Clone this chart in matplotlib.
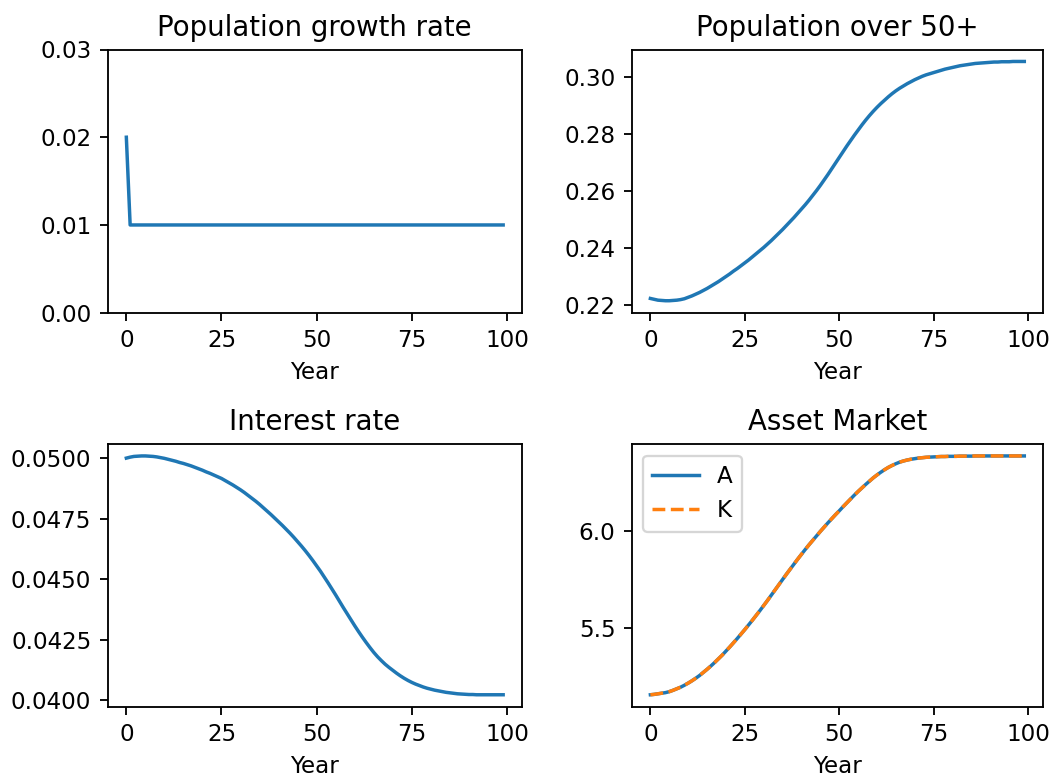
import matplotlib
matplotlib.use("Agg")
import matplotlib.pyplot as plt

years = list(range(100))

pop_growth = [0.02] + [0.01] * 99

pop_over_50 = [
    0.2222, 0.2219, 0.2216, 0.2215, 0.2214, 0.2214, 0.2215, 0.2216, 0.2218, 0.2221,
    0.2226, 0.2231, 0.2237, 0.2243, 0.2250, 0.2257, 0.2265, 0.2273, 0.2281, 0.2290,
    0.2299, 0.2308, 0.2318, 0.2327, 0.2337, 0.2347, 0.2357, 0.2368, 0.2379, 0.2390,
    0.2401, 0.2413, 0.2425, 0.2438, 0.2451, 0.2464, 0.2478, 0.2492, 0.2506, 0.2521,
    0.2536, 0.2551, 0.2567, 0.2584, 0.2601, 0.2619, 0.2638, 0.2657, 0.2677, 0.2697,
    0.2717, 0.2737, 0.2757, 0.2776, 0.2795, 0.2813, 0.2831, 0.2848, 0.2864, 0.2879,
    0.2893, 0.2906, 0.2918, 0.2930, 0.2941, 0.2951, 0.2960, 0.2968, 0.2976, 0.2983,
    0.2990, 0.2996, 0.3002, 0.3007, 0.3011, 0.3015, 0.3019, 0.3023, 0.3027, 0.3030,
    0.3033, 0.3036, 0.3039, 0.3041, 0.3043, 0.3045, 0.3047, 0.3048, 0.3049, 0.3050,
    0.3051, 0.3052, 0.3052, 0.3053, 0.3053, 0.3053, 0.3054, 0.3054, 0.3054, 0.3054,
]

interest_rate = [
    0.05000, 0.05004, 0.05007, 0.05008, 0.05009, 0.05009, 0.05008, 0.05007, 0.05005, 0.05002,
    0.04999, 0.04995, 0.04991, 0.04987, 0.04982, 0.04978, 0.04973, 0.04968, 0.04962, 0.04956,
    0.04950, 0.04943, 0.04937, 0.04930, 0.04923, 0.04916, 0.04907, 0.04898, 0.04889, 0.04879,
    0.04869, 0.04858, 0.04846, 0.04834, 0.04822, 0.04809, 0.04795, 0.04781, 0.04767, 0.04752,
    0.04737, 0.04722, 0.04706, 0.04690, 0.04673, 0.04655, 0.04637, 0.04618, 0.04598, 0.04577,
    0.04555, 0.04533, 0.04509, 0.04485, 0.04460, 0.04435, 0.04409, 0.04383, 0.04358, 0.04333,
    0.04308, 0.04284, 0.04261, 0.04239, 0.04218, 0.04198, 0.04180, 0.04164, 0.04149, 0.04136,
    0.04124, 0.04112, 0.04101, 0.04091, 0.04082, 0.04074, 0.04067, 0.04061, 0.04055, 0.04050,
    0.04046, 0.04042, 0.04039, 0.04036, 0.04033, 0.04031, 0.04029, 0.04027, 0.04026, 0.04025,
    0.04024, 0.04024, 0.04023, 0.04023, 0.04023, 0.04023, 0.04023, 0.04023, 0.04023, 0.04023,
]

assets_A = [
    5.156, 5.158, 5.161, 5.164, 5.167, 5.172, 5.179, 5.187, 5.195, 5.205,
    5.216, 5.228, 5.241, 5.255, 5.271, 5.287, 5.304, 5.322, 5.341, 5.360,
    5.381, 5.402, 5.424, 5.446, 5.469, 5.492, 5.516, 5.540, 5.565, 5.590,
    5.616, 5.642, 5.669, 5.696, 5.723, 5.750, 5.777, 5.803, 5.829, 5.855,
    5.880, 5.905, 5.929, 5.952, 5.975, 5.998, 6.020, 6.042, 6.063, 6.084,
    6.104, 6.125, 6.145, 6.165, 6.185, 6.204, 6.222, 6.240, 6.257, 6.274,
    6.289, 6.303, 6.316, 6.328, 6.338, 6.347, 6.355, 6.361, 6.366, 6.370,
    6.373, 6.376, 6.378, 6.380, 6.381, 6.382, 6.383, 6.384, 6.384, 6.385,
    6.385, 6.385, 6.386, 6.386, 6.386, 6.386, 6.387, 6.387, 6.387, 6.387,
    6.387, 6.387, 6.387, 6.387, 6.387, 6.387, 6.387, 6.387, 6.387, 6.387,
]

capital_K = list(assets_A)

W, H, DPI = 1062, 778, 166
fig = plt.figure(figsize=(W / DPI, H / DPI), dpi=DPI)


def px_axes(left, top, right, bottom):
    return fig.add_axes([left / W, 1 - bottom / H, (right - left) / W, (bottom - top) / H])


ax1 = px_axes(107.5, 49.5, 522, 312.7)
ax2 = px_axes(631.7, 49.5, 1043, 312.7)
ax3 = px_axes(107.5, 444, 522, 706.7)
ax4 = px_axes(631.7, 444, 1043, 706.7)

ax1.plot(years, pop_growth)
ax1.set_ylim(0, 0.03)
ax1.set_yticks([0.0, 0.01, 0.02, 0.03])
ax1.set_title("Population growth rate")

ax2.plot(years, pop_over_50)
ax2.set_title("Population over 50+")

ax3.plot(years, interest_rate)
ax3.set_title("Interest rate")

ax4.plot(years, assets_A, label="A")
ax4.plot(years, capital_K, "--", label="K")
ax4.set_title("Asset Market")
ax4.legend(loc="upper left")

for ax in (ax1, ax2, ax3, ax4):
    ax.set_xticks([0, 25, 50, 75, 100])
    ax.set_xlabel("Year")

fig.savefig("out.png", dpi=DPI)
